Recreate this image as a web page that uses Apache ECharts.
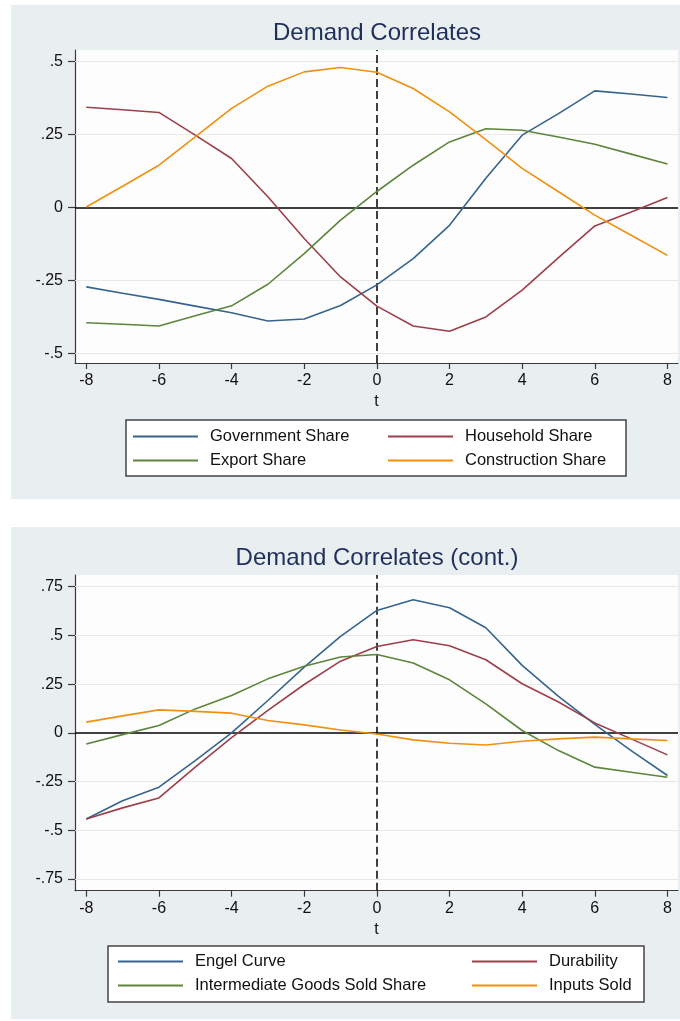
<!DOCTYPE html>
<html>
<head>
<meta charset="utf-8">
<script src="https://cdn.jsdelivr.net/npm/echarts@6.0.0/dist/echarts.min.js"></script>
<style>
html,body{margin:0;padding:0;background:#ffffff;}
#chart{width:680px;height:1021px;}
</style>
</head>
<body>
<div id="chart"></div>
<script>
// ---- data ----
const t = [-8,-7,-6,-5,-4,-3,-2,-1,0,1,2,3,4,5,6,7,8];
const xTicks = [-8,-6,-4,-2,0,2,4,6,8];
const yTicksTop = [-0.5,-0.25,0,0.25,0.5];
const yTicksBottom = [-0.75,-0.5,-0.25,0,0.25,0.5,0.75];

const titleTop = 'Demand Correlates';
const titleBottom = 'Demand Correlates (cont.)';

const governmentShare   = [-0.272,-0.294,-0.315,-0.338,-0.361,-0.389,-0.382,-0.336,-0.265,-0.175,-0.061,0.100,0.248,0.322,0.400,0.389,0.377];
const householdShare    = [0.344,0.335,0.326,0.248,0.168,0.037,-0.106,-0.238,-0.338,-0.406,-0.424,-0.375,-0.283,-0.172,-0.063,-0.015,0.034];
const exportShare       = [-0.395,-0.400,-0.406,-0.371,-0.337,-0.263,-0.158,-0.043,0.055,0.145,0.225,0.270,0.265,0.242,0.217,0.183,0.149];
const constructionShare = [0.002,0.073,0.145,0.242,0.340,0.416,0.465,0.480,0.464,0.408,0.328,0.233,0.134,0.054,-0.026,-0.095,-0.164];

const engelCurve        = [-0.442,-0.348,-0.279,-0.142,0.000,0.166,0.337,0.495,0.628,0.683,0.642,0.539,0.346,0.187,0.043,-0.091,-0.219];
const durability        = [-0.442,-0.385,-0.334,-0.176,-0.025,0.115,0.248,0.368,0.443,0.478,0.447,0.375,0.252,0.158,0.051,-0.031,-0.113];
const intermediateGoods = [-0.057,-0.009,0.038,0.123,0.192,0.277,0.342,0.389,0.402,0.358,0.272,0.149,0.012,-0.091,-0.176,-0.202,-0.228];
const inputsSold        = [0.055,0.087,0.118,0.110,0.101,0.063,0.041,0.015,-0.006,-0.036,-0.053,-0.062,-0.043,-0.031,-0.022,-0.031,-0.039];

// ---- styles ----
const FONT = '"Liberation Sans", Arial, Helvetica, sans-serif';
const C_BLUE = '#36648f', C_RED = '#9c3f4b', C_GREEN = '#5d853c', C_ORANGE = '#f0900f';
const TXT = '#111111';
const AXIS_C = '#3a3a3a';

function fmtY(v){
  if (Math.abs(v) < 1e-9) return '0';
  const s = String(Math.round(v*100)/100);
  return s.replace('0.', '.');
}
const pairs = arr => t.map((x,i)=>[x, arr[i]]);

function xAxisCfg(gi){
  return {
    type:'value', gridIndex:gi, min:-8.31, max:8.29,
    axisLine:{show:true, onZero:false, lineStyle:{color:AXIS_C, width:1.2}},
    axisTick:{show:true, length:6, customValues:xTicks, lineStyle:{color:AXIS_C, width:1.2}},
    axisLabel:{customValues:xTicks, margin:10, fontSize:16, color:TXT, fontFamily:FONT, formatter:v=>String(v)},
    splitLine:{show:false},
    name:'t', nameLocation:'middle', nameGap:31,
    nameTextStyle:{fontSize:16, color:TXT, fontFamily:FONT}
  };
}
function yAxisCfg(gi, mn, mx, ticks){
  return {
    type:'value', gridIndex:gi, min:mn, max:mx,
    axisLine:{show:true, onZero:false, lineStyle:{color:AXIS_C, width:1.2}},
    axisTick:{show:true, length:7, customValues:ticks, lineStyle:{color:AXIS_C, width:1.2}},
    axisLabel:{customValues:ticks, margin:12, fontSize:16, color:TXT, fontFamily:FONT, formatter:fmtY},
    splitLine:{show:false}
  };
}
function refSeries(gi, ticks){
  const d = ticks.filter(v=>v!==0).map(v=>({yAxis:v, lineStyle:{color:'#e8e8e8', width:1, type:'solid'}}));
  d.push({yAxis:0, lineStyle:{color:'#000', width:1.5, type:'solid'}});
  d.push({xAxis:0, lineStyle:{color:'#000', width:1.5, type:[8,4]}});
  return {
    type:'line', xAxisIndex:gi, yAxisIndex:gi, data:[], silent:true, z:1,
    markLine:{silent:true, z:1, symbol:'none', label:{show:false}, animation:false, data:d}
  };
}
function lineSeries(gi, name, arr, color){
  return {
    type:'line', name:name, xAxisIndex:gi, yAxisIndex:gi, data:pairs(arr),
    showSymbol:false, symbol:'none', z:3, color:color,
    lineStyle:{color:color, width:1.6}, emphasis:{disabled:true}
  };
}
function legendCfg(name, left, top){
  return {
    data:[name], left:left, top:top, padding:0, icon:'rect',
    itemWidth:65, itemHeight:2, selectedMode:false,
    textStyle:{fontSize:16.5, color:TXT, fontFamily:FONT, padding:[0,0,0,7]}
  };
}

const chart = echarts.init(document.getElementById('chart'), null, {renderer:'canvas'});
chart.setOption({
  animation:false,
  backgroundColor:'#ffffff',
  title:[
    {text:titleTop, left:377, top:21, textAlign:'center', padding:0,
     textStyle:{fontSize:24, fontWeight:'normal', color:'#1f2f5c', fontFamily:FONT}},
    {text:titleBottom, left:377, top:546, textAlign:'center', padding:0,
     textStyle:{fontSize:24, fontWeight:'normal', color:'#1f2f5c', fontFamily:FONT}}
  ],
  graphic:[
    {type:'rect', z:-10, silent:true, shape:{x:11, y:5, width:669, height:494}, style:{fill:'#e9eef1'}},
    {type:'rect', z:-10, silent:true, shape:{x:11, y:527, width:669, height:492}, style:{fill:'#e9eef1'}},
    {type:'rect', z:1, silent:true, shape:{x:126, y:420, width:500, height:56}, style:{fill:'#ffffff', stroke:'#444', lineWidth:1.5}},
    {type:'rect', z:1, silent:true, shape:{x:108, y:946, width:536, height:56}, style:{fill:'#ffffff', stroke:'#444', lineWidth:1.5}}
  ],
  legend:[
    legendCfg('Government Share', 133, 428),
    legendCfg('Household Share', 388, 428),
    legendCfg('Export Share', 133, 452),
    legendCfg('Construction Share', 388, 452),
    legendCfg('Engel Curve', 118, 953),
    legendCfg('Durability', 472, 953),
    legendCfg('Intermediate Goods Sold Share', 118, 977),
    legendCfg('Inputs Sold', 472, 977)
  ],
  grid:[
    {left:75, top:50, width:603, height:313, show:true, backgroundColor:'#fdfdfd', borderWidth:0},
    {left:75, top:575, width:603, height:315.7, show:true, backgroundColor:'#fdfdfd', borderWidth:0}
  ],
  xAxis:[xAxisCfg(0), xAxisCfg(1)],
  yAxis:[yAxisCfg(0,-0.533,0.540,yTicksTop), yAxisCfg(1,-0.810,0.810,yTicksBottom)],
  series:[
    refSeries(0, yTicksTop),
    lineSeries(0,'Government Share',governmentShare,C_BLUE),
    lineSeries(0,'Household Share',householdShare,C_RED),
    lineSeries(0,'Export Share',exportShare,C_GREEN),
    lineSeries(0,'Construction Share',constructionShare,C_ORANGE),
    refSeries(1, yTicksBottom),
    lineSeries(1,'Engel Curve',engelCurve,C_BLUE),
    lineSeries(1,'Durability',durability,C_RED),
    lineSeries(1,'Intermediate Goods Sold Share',intermediateGoods,C_GREEN),
    lineSeries(1,'Inputs Sold',inputsSold,C_ORANGE)
  ]
});
</script>
</body>
</html>
